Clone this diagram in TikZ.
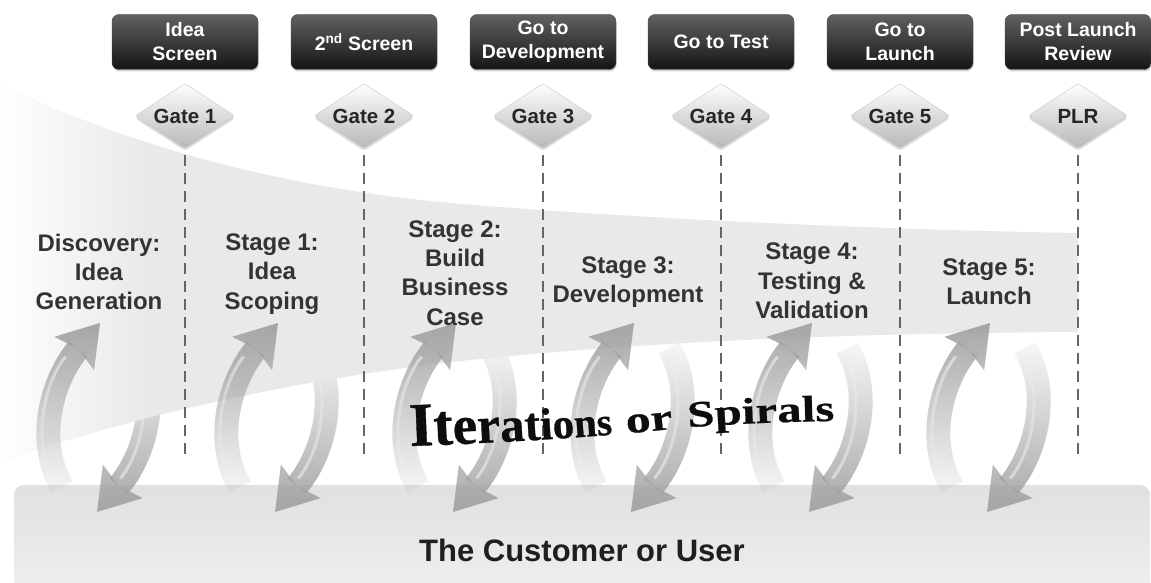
\documentclass[tikz,border=0pt]{standalone}
\usepackage{fontspec}
\setmainfont{Liberation Sans}
\newfontfamily\wordfont{Liberation Serif}[FakeBold=0.6]
\newfontfamily\wordfontwide{Liberation Serif}[FakeStretch=1.32,FakeBold=0.6]
\usetikzlibrary{arrows.meta,shapes.geometric,fadings,decorations.text,shadows}

% fadings for the spiral arrows and the left end of the band
\tikzfading[name=opaquetop, top color=transparent!0, middle color=transparent!30, bottom color=transparent!95]
\tikzfading[name=opaquebottom, top color=transparent!95, middle color=transparent!30, bottom color=transparent!0]
\tikzfading[name=opaqueleft, left color=transparent!0, right color=transparent!100]

\definecolor{bandgray}{gray}{0.915}
\definecolor{arrowgray}{gray}{0.63}
\definecolor{dashgray}{gray}{0.4}
\definecolor{stagetext}{gray}{0.2}

% serif word art sizes
\newcommand\iw[1]{\wordfont\bfseries\fontsize{#1}{#1}\selectfont}
\newcommand\iww[1]{\wordfontwide\bfseries\fontsize{#1}{#1}\selectfont}

% outline of the stage band
\newcommand\bandpath{(0,-85) .. controls (120,-140) and (260,-185) .. (450,-203)
  .. controls (650,-220) and (900,-230) .. (1078,-233) -- (1078,-332)
  .. controls (900,-333) and (700,-338) .. (500,-357)
  .. controls (330,-373) and (150,-410) .. (0,-462) -- cycle}

\tikzset{
  topbox/.style={rounded corners=7pt, minimum width=146pt, minimum height=55pt, inner sep=2pt,
    top color=black!62, bottom color=black!92, draw=black!70, text=white, align=center,
    font=\bfseries\fontsize{19.5}{24}\selectfont,
    drop shadow={opacity=0.35, shadow xshift=0.5pt, shadow yshift=-2pt}},
  gate/.style={diamond, aspect=1.55, minimum width=100pt, minimum height=65pt, inner sep=0pt,
    rounded corners=3pt, top color=white, bottom color=black!28, draw=black!22,
    text=black!85, font=\bfseries\fontsize{20.5}{22}\selectfont,
    drop shadow={opacity=0.25, shadow xshift=0pt, shadow yshift=-2.5pt}},
  gateline/.style={draw=dashgray, line width=2pt, dash pattern=on 11pt off 7pt, shorten <=6pt},
  stagetxt/.style={align=center, text=stagetext, font=\bfseries\fontsize{24}{29.3}\selectfont},
  custbox/.style={rounded corners=10pt, minimum width=1136pt, minimum height=130pt,
    top color=black!12, bottom color=black!5, draw=none, text=black!88,
    font=\bfseries\fontsize{31}{36}\selectfont},
  spiralhead/.style={-{Stealth[length=40pt,width=52pt,inset=6pt,line width=0pt]}},
  spiralup/.style={arrowgray, line width=24pt, spiralhead, path fading=opaquetop},
  spiraldown/.style={arrowgray, line width=24pt, spiralhead, path fading=opaquebottom},
  shine/.style={white, line width=3pt, opacity=0.6, shorten >=44pt},
}

\begin{document}
\begin{tikzpicture}[x=1pt, y=1pt]
\useasboundingbox (0,0) rectangle (1151,-583);
\clip (0,0) rectangle (1151,-583);
\fill[white] (0,0) rectangle (1151,-583);

% customer / user base
\node[custbox] (cust) at (582,-550) {The Customer or User};

% downward halves of the spirals (behind the band)
\foreach \c in {99,277,455,633,811,989} {
  \draw[spiraldown] (\c+36,-348) .. controls (\c+63,-395) and (\c+46,-455) .. (\c-2,-512);
  \draw[shine, path fading=opaquebottom] (\c+31,-348) .. controls (\c+58,-395) and (\c+41,-455) .. (\c-7,-512);
}

% stage band
\fill[bandgray] \bandpath;
\begin{scope}
  \clip \bandpath;
  \fill[white, path fading=opaqueleft] (0,-60) rectangle (150,-480);
\end{scope}

% upward halves of the spirals
\foreach \c in {99,277,455,633,811,989} {
  \draw[spiralup] (\c-37,-487) .. controls (\c-64,-440) and (\c-47,-380) .. (\c+1,-323);
  \draw[shine, path fading=opaquetop] (\c-43,-487) .. controls (\c-70,-440) and (\c-53,-380) .. (\c-5,-323);
}

% decision boxes
\node[topbox] (b1) at (185,-42) {Idea\\Screen};
\node[topbox] (b2) at (364,-42) {2\textsuperscript{nd} Screen};
\node[topbox] (b3) at (543,-42) {Go to\\Development};
\node[topbox] (b4) at (721,-42) {Go to Test};
\node[topbox] (b5) at (900,-42) {Go to\\Launch};
\node[topbox] (b6) at (1078,-42) {Post Launch\\Review};

% gates
\node[gate] (g1) at (185,-116) {Gate 1};
\node[gate] (g2) at (364,-116) {Gate 2};
\node[gate] (g3) at (543,-116) {Gate 3};
\node[gate] (g4) at (721,-116) {Gate 4};
\node[gate] (g5) at (900,-116) {Gate 5};
\node[gate] (g6) at (1078,-116) {PLR};

% gate dividers
\coordinate (d1) at (185,-457);
\coordinate (d2) at (364,-457);
\coordinate (d3) at (543,-457);
\coordinate (d4) at (721,-457);
\coordinate (d5) at (900,-457);
\coordinate (d6) at (1078,-457);
\foreach \i in {1,...,6} { \draw[gateline] (g\i.south) -- (d\i); }

% stages
\node[stagetxt] (s0) at (99,-272) {Discovery:\\Idea\\Generation};
\node[stagetxt] (s1) at (272,-274) {Stage 1:\\Idea\\Scoping};
\node[stagetxt] (s2) at (455,-273) {Stage 2:\\Build\\Business\\Case};
\node[stagetxt] (s3) at (628,-282) {Stage 3:\\Development};
\node[stagetxt] (s4) at (812,-281) {Stage 4:\\Testing \&\\Validation};
\node[stagetxt] (s5) at (989,-282) {Stage 5:\\Launch};

% iterations word art
\coordinate (wstart) at (410,-446);
\coordinate (wend) at (900,-420);
\path[decorate, decoration={text along path, text align=left, text color=black!95,
  text={|\iw{62}|I|\iw{58}|t|\iw{55}|e|\iw{52}|r|\iw{49}|a|\iw{47}|t|\iw{45}|i|\iw{43}|o|\iw{41}|n|\iw{39}|s|\iw{56}| |\iww{38}|o|\iww{37}|r|\iw{60}| |\iww{37}|S|\iww{37}|p|\iww{37}|i|\iww{37}|r|\iww{37}|a|\iww{37}|l|\iww{37}|s}}]
  (wstart) .. controls (520,-442) and (610,-436) .. (680,-428) .. controls (740,-423) and (800,-421) .. (wend);
\end{tikzpicture}
\end{document}
